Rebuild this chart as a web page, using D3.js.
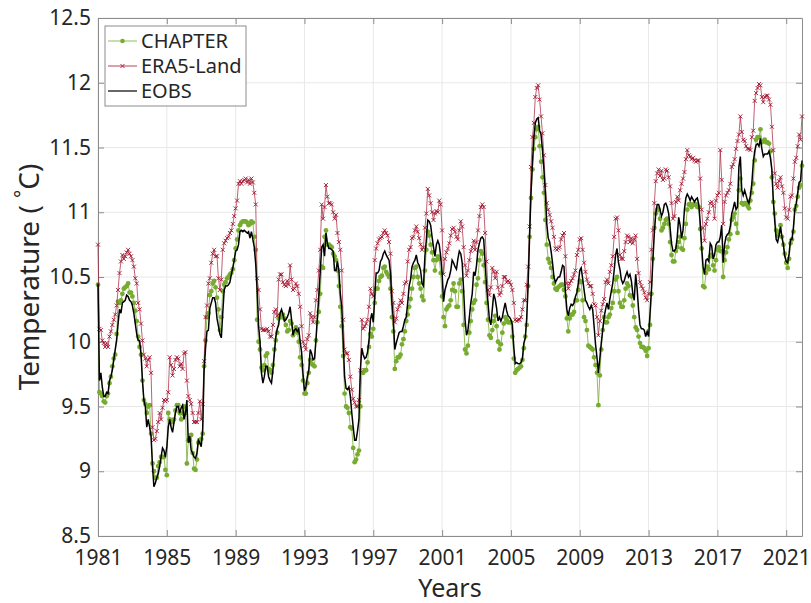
<!DOCTYPE html>
<html><head><meta charset="utf-8">
<script src="https://cdn.jsdelivr.net/npm/d3@7"></script>
<style>
body{margin:0;background:#fff;}
svg{display:block;font-family:"Noto Sans",sans-serif;}
</style>
</head><body>
<svg id="chart" width="811" height="603"></svg>
<script>
// ---- data (monthly, starting January 1981) ----
const startYear = 1981;
const xTickYears = [1981,1985,1989,1993,1997,2001,2005,2009,2013,2017,2021];
const yTickValues = [8.5,9,9.5,10,10.5,11,11.5,12,12.5];
const seriesNames = ["CHAPTER","ERA5-Land","EOBS"];

const chapter = [
10.44,9.61,9.60,9.58,9.54,9.53,9.58,9.60,9.68,9.73,9.81,9.87,
9.90,10.06,10.31,10.30,10.32,10.37,10.41,10.42,10.43,10.45,10.38,10.38,
10.35,10.30,10.24,10.16,10.04,9.96,9.90,9.70,9.55,9.52,9.45,9.50,
9.51,9.29,9.06,9.00,8.95,8.95,9.04,9.07,9.11,9.11,9.11,9.01,
8.97,9.45,9.40,9.38,9.38,9.40,9.47,9.51,9.51,9.45,9.40,9.45,
9.50,9.45,9.06,9.24,9.24,9.28,9.14,9.02,9.01,9.09,9.22,9.24,
9.25,9.29,9.81,10.01,10.19,10.22,10.36,10.39,10.45,10.47,10.42,10.34,
10.25,10.09,10.19,10.39,10.44,10.46,10.49,10.50,10.52,10.53,10.56,10.63,
10.72,10.79,10.86,10.90,10.92,10.93,10.93,10.93,10.92,10.90,10.91,10.93,
10.92,10.81,10.71,10.17,10.00,9.94,9.80,9.78,9.82,9.89,9.91,9.79,
9.78,9.76,9.82,9.94,10.01,10.07,10.18,10.21,10.19,10.21,10.18,10.13,
10.08,10.09,10.16,10.14,10.05,10.08,10.11,10.07,10.00,9.88,9.82,9.70,
9.60,9.60,9.68,9.76,9.86,9.83,9.82,9.81,10.01,10.15,10.23,10.37,
10.58,10.57,10.81,10.86,10.75,10.75,10.74,10.73,10.68,10.66,10.63,10.55,
10.43,10.27,10.12,9.89,9.60,9.50,9.49,9.45,9.34,9.33,9.18,9.07,
9.09,9.13,9.16,9.50,9.76,9.76,9.78,9.78,9.84,9.96,10.06,10.04,
10.10,10.30,10.41,10.41,10.47,10.50,10.51,10.57,10.58,10.54,10.52,10.50,
10.41,10.19,10.08,9.79,9.85,9.88,9.88,9.90,9.98,10.02,10.08,10.16,
10.21,10.27,10.33,10.41,10.50,10.57,10.58,10.50,10.45,10.41,10.35,10.32,
10.55,10.71,10.85,10.82,10.75,10.69,10.63,10.55,10.63,10.66,10.64,10.53,
10.35,10.19,10.12,10.25,10.27,10.28,10.32,10.40,10.45,10.39,10.27,10.27,
10.45,10.48,10.39,10.13,9.94,9.91,9.97,10.07,10.16,10.25,10.30,10.32,
10.44,10.49,10.63,10.70,10.68,10.59,10.46,10.30,10.17,10.05,10.03,10.09,
10.16,10.20,10.12,10.00,9.94,9.98,10.07,10.14,10.19,10.17,10.15,10.15,
10.15,10.04,9.87,9.76,9.78,9.79,9.80,9.81,9.86,9.95,10.04,10.13,
10.43,10.81,11.11,11.33,11.49,11.58,11.64,11.66,11.51,11.39,11.27,11.15,
10.94,10.75,10.64,10.61,10.57,10.50,10.45,10.41,10.40,10.42,10.43,10.44,
10.44,10.40,10.35,10.18,10.08,10.18,10.21,10.21,10.23,10.32,10.32,10.40,
10.47,10.46,10.32,10.19,10.16,10.09,9.97,9.96,9.95,9.94,9.88,9.82,
9.76,9.51,9.74,9.94,10.09,10.19,10.15,10.15,10.19,10.21,10.26,10.30,
10.39,10.48,10.50,10.39,10.30,10.27,10.27,10.32,10.41,10.45,10.43,10.36,
10.35,10.28,10.19,10.11,10.09,10.04,9.99,9.96,9.96,9.95,9.93,9.89,
9.95,10.13,10.37,10.64,10.88,10.99,11.02,11.02,10.95,10.86,10.88,10.91,
10.94,10.95,10.91,10.77,10.67,10.62,10.62,10.70,10.73,10.77,10.81,10.72,
10.71,10.80,10.91,11.02,11.06,11.06,11.04,11.06,11.06,11.06,11.04,11.04,
10.87,10.72,10.43,10.42,10.53,10.58,10.56,10.66,10.67,10.59,10.55,10.63,
10.71,10.73,10.70,10.70,10.50,10.63,10.69,10.73,10.79,10.83,10.94,10.96,
10.99,10.91,10.84,11.17,11.26,11.07,11.06,11.07,11.07,11.05,11.03,11.09,
11.15,11.22,11.40,11.56,11.58,11.58,11.64,11.54,11.55,11.56,11.54,11.54,
11.53,11.47,11.27,11.08,10.99,10.86,10.82,10.85,10.90,10.81,10.75,10.68,
10.61,10.57,10.64,10.76,10.79,10.85,11.02,11.05,11.12,11.19,11.21,11.36
];

const era5 = [
10.75,10.10,10.09,10.01,9.99,9.96,9.99,9.96,10.04,10.08,10.13,10.17,
10.21,10.28,10.40,10.53,10.62,10.67,10.64,10.66,10.69,10.71,10.68,10.66,
10.63,10.58,10.49,10.45,10.30,10.25,10.14,10.01,9.90,9.87,9.81,9.86,
9.88,9.76,9.34,9.24,9.25,9.31,9.38,9.45,9.40,9.49,9.55,9.54,
9.55,9.61,9.88,9.82,9.74,9.79,9.86,9.88,9.87,9.81,9.83,9.79,
9.91,9.92,9.70,9.58,9.55,9.52,9.45,9.38,9.38,9.38,9.45,9.54,
9.40,9.52,9.85,10.19,10.28,10.45,10.49,10.61,10.68,10.71,10.66,10.66,
10.49,10.40,10.48,10.71,10.76,10.78,10.80,10.81,10.84,10.86,10.91,10.97,
11.03,11.09,11.22,11.24,11.22,11.24,11.25,11.26,11.23,11.25,11.22,11.26,
11.23,11.15,11.06,10.49,10.40,10.25,10.10,10.09,10.09,10.09,10.10,10.08,
10.04,10.04,10.13,10.23,10.25,10.20,10.48,10.52,10.52,10.46,10.44,10.43,
10.47,10.44,10.59,10.48,10.40,10.41,10.45,10.43,10.37,10.27,10.12,10.00,
9.97,9.94,10.02,10.05,10.22,10.19,10.15,10.19,10.32,10.40,10.55,10.71,
11.06,10.95,11.04,11.21,11.12,11.07,11.07,11.06,11.00,10.95,10.98,10.84,
10.77,10.71,10.55,10.17,9.94,9.91,9.91,9.86,9.73,9.63,9.56,9.53,
9.50,9.50,9.55,9.78,10.17,10.10,10.12,10.14,10.17,10.27,10.41,10.37,
10.35,10.63,10.72,10.76,10.79,10.80,10.81,10.84,10.86,10.84,10.82,10.77,
10.68,10.39,10.30,10.15,10.18,10.25,10.28,10.32,10.30,10.37,10.45,10.46,
10.62,10.71,10.73,10.80,10.81,10.86,10.89,10.85,10.80,10.75,10.71,10.73,
10.88,10.99,11.18,11.13,11.07,11.00,10.94,10.99,11.01,11.00,11.09,11.06,
10.86,10.52,10.64,10.69,10.72,10.76,10.82,10.87,10.88,10.85,10.81,10.79,
10.86,10.93,10.89,10.73,10.59,10.51,10.55,10.63,10.70,10.73,10.78,10.71,
10.77,10.86,10.97,11.04,11.06,11.04,10.84,10.62,10.40,10.36,10.42,10.57,
10.54,10.49,10.54,10.42,10.36,10.38,10.43,10.50,10.50,10.46,10.47,10.46,
10.44,10.40,10.30,10.17,10.16,10.17,10.17,10.19,10.25,10.32,10.32,10.44,
10.58,10.89,11.35,11.58,11.69,11.89,11.96,11.98,11.87,11.74,11.61,11.44,
11.21,11.07,11.02,10.98,10.93,10.88,10.81,10.72,10.71,10.72,10.73,10.79,
10.82,10.84,10.66,10.45,10.41,10.45,10.47,10.49,10.52,10.55,10.67,10.71,
10.79,10.80,10.71,10.61,10.54,10.48,10.45,10.43,10.43,10.37,10.29,10.28,
10.19,10.05,10.16,10.24,10.29,10.33,10.46,10.48,10.45,10.54,10.59,10.66,
10.81,10.95,10.96,10.86,10.67,10.64,10.64,10.70,10.77,10.82,10.81,10.77,
10.80,10.76,10.79,10.82,10.64,10.53,10.46,10.43,10.41,10.38,10.34,10.32,
10.37,10.46,10.71,10.86,11.07,11.24,11.30,11.33,11.28,11.32,11.25,11.26,
11.33,11.32,11.27,11.20,11.07,10.95,10.97,11.08,11.12,11.09,11.17,11.22,
11.26,11.31,11.41,11.48,11.44,11.43,11.41,11.42,11.40,11.39,11.40,11.40,
11.26,11.02,10.88,10.78,10.91,10.95,11.00,11.07,11.08,11.05,10.95,11.09,
11.13,11.15,11.48,11.25,10.91,11.08,11.13,11.15,11.17,11.22,11.35,11.37,
11.41,11.49,11.55,11.60,11.74,11.62,11.56,11.55,11.51,11.49,11.49,11.48,
11.58,11.63,11.86,11.92,11.96,11.99,11.98,11.89,11.85,11.89,11.90,11.90,
11.87,11.83,11.66,11.48,11.30,11.22,11.19,11.24,11.27,11.20,11.15,11.03,
10.96,10.95,11.02,11.12,11.13,11.26,11.39,11.42,11.51,11.60,11.56,11.74
];

const eobs = [
10.45,9.70,9.76,9.65,9.58,9.58,9.61,9.60,9.70,9.73,9.78,9.86,
9.94,10.01,10.14,10.25,10.22,10.30,10.31,10.32,10.36,10.35,10.32,10.31,
10.28,10.22,10.14,10.06,10.01,10.01,9.91,9.70,9.55,9.50,9.34,9.40,
9.34,9.27,9.04,8.88,8.91,8.95,8.98,9.04,9.11,9.18,9.16,9.11,
9.19,9.34,9.40,9.34,9.30,9.38,9.45,9.50,9.50,9.45,9.49,9.51,
9.40,9.45,9.55,9.22,9.27,9.16,9.14,9.11,9.10,9.14,9.24,9.22,
9.19,9.32,9.78,9.95,10.08,10.09,10.26,10.30,10.34,10.34,10.30,10.18,
10.12,10.06,10.03,10.22,10.40,10.43,10.43,10.44,10.46,10.52,10.57,10.63,
10.70,10.71,10.75,10.85,10.86,10.85,10.86,10.85,10.84,10.85,10.80,10.85,
10.79,10.73,10.60,10.40,10.12,10.00,9.76,9.68,9.73,9.81,9.81,9.73,
9.70,9.68,9.78,9.91,10.04,10.10,10.13,10.22,10.25,10.21,10.16,10.17,
10.19,10.22,10.27,10.17,10.05,10.09,10.10,10.08,10.10,10.00,9.92,9.75,
9.62,9.65,9.73,9.78,9.94,9.91,9.86,9.87,10.01,10.19,10.35,10.54,
10.73,10.75,10.66,10.84,10.76,10.72,10.72,10.71,10.70,10.55,10.55,10.62,
10.55,10.37,10.27,10.01,9.73,9.64,9.63,9.65,9.58,9.45,9.34,9.24,
9.24,9.31,9.40,9.78,9.95,9.90,9.87,9.88,9.92,10.01,10.17,10.22,
10.15,10.35,10.53,10.53,10.55,10.62,10.64,10.68,10.70,10.67,10.65,10.63,
10.53,10.30,10.17,9.94,9.99,10.03,10.07,10.08,10.08,10.12,10.17,10.19,
10.30,10.43,10.48,10.58,10.61,10.63,10.67,10.61,10.59,10.55,10.45,10.43,
10.66,10.79,10.94,10.93,10.90,10.81,10.73,10.66,10.75,10.78,10.75,10.66,
10.53,10.31,10.40,10.44,10.48,10.50,10.55,10.63,10.61,10.58,10.56,10.64,
10.70,10.68,10.61,10.40,10.17,10.05,10.09,10.19,10.30,10.37,10.54,10.51,
10.59,10.71,10.76,10.80,10.81,10.79,10.61,10.43,10.30,10.17,10.13,10.25,
10.37,10.33,10.26,10.16,10.19,10.16,10.19,10.25,10.30,10.24,10.20,10.19,
10.17,10.13,9.96,9.83,9.84,9.83,9.83,9.84,9.87,9.99,10.03,10.18,
10.45,10.81,11.15,11.38,11.58,11.69,11.72,11.73,11.63,11.60,11.48,11.33,
11.15,10.91,10.80,10.77,10.70,10.61,10.50,10.46,10.48,10.50,10.50,10.54,
10.59,10.58,10.39,10.25,10.20,10.26,10.29,10.28,10.30,10.35,10.38,10.45,
10.55,10.57,10.49,10.40,10.32,10.30,10.27,10.25,10.28,10.25,10.12,9.98,
9.88,9.76,9.87,9.99,10.09,10.19,10.25,10.30,10.25,10.33,10.39,10.45,
10.55,10.67,10.72,10.61,10.56,10.48,10.45,10.47,10.51,10.54,10.50,10.52,
10.47,10.37,10.32,10.52,10.41,10.25,10.13,10.10,10.10,10.09,10.04,10.08,
10.04,10.22,10.40,10.63,10.84,10.99,11.06,11.06,11.02,10.97,11.00,11.06,
11.07,11.04,10.99,10.88,10.76,10.70,10.70,10.72,10.81,10.96,10.90,10.80,
10.86,11.02,11.11,11.14,11.12,11.09,11.12,11.10,11.08,11.10,11.11,11.06,
10.92,10.73,10.58,10.52,10.63,10.64,10.62,10.76,10.74,10.64,10.67,10.75,
10.77,10.77,10.81,10.90,10.61,10.75,10.81,10.83,10.84,10.89,10.99,11.03,
11.08,11.02,11.04,11.35,11.43,11.17,11.13,11.17,11.13,11.09,11.07,11.13,
11.22,11.38,11.47,11.52,11.53,11.51,11.57,11.49,11.43,11.45,11.45,11.45,
11.47,11.42,11.33,11.09,10.93,10.79,10.77,10.82,10.89,10.81,10.75,10.66,
10.62,10.61,10.68,10.79,10.79,10.88,11.02,11.07,11.15,11.23,11.24,11.40
];

// ---- layout ----
const svg = d3.select("#chart");
const L = 98, R = 802, T = 18, B = 536;
const nMonths = eobs.length;
const timeOf = i => startYear + i / 12;

const x = d3.scaleLinear().domain([startYear, timeOf(nMonths - 1)]).range([L, R]);
const y = d3.scaleLinear().domain([8.5, 12.5]).range([B, T]);

const axisColor = "#8c8c8c";
const textColor = "#262626";

// grid
const grid = svg.append("g");
grid.selectAll("line.gx").data(xTickYears).join("line")
  .attr("x1", d => x(d)).attr("x2", d => x(d)).attr("y1", T).attr("y2", B)
  .attr("stroke", "#e8e8e8").attr("stroke-width", 1);
grid.selectAll("line.gy").data(yTickValues).join("line")
  .attr("x1", L).attr("x2", R).attr("y1", d => y(d)).attr("y2", d => y(d))
  .attr("stroke", "#e8e8e8").attr("stroke-width", 1);

// axes
const xAxis = d3.axisBottom(x).tickValues(xTickYears).tickFormat(d3.format("d")).tickSizeInner(-6).tickSizeOuter(0).tickPadding(14);
const yAxis = d3.axisLeft(y).tickValues(yTickValues).tickFormat(d => d3.format("")(d)).tickSizeInner(-6).tickSizeOuter(0).tickPadding(7);

const gx = svg.append("g").attr("transform", `translate(0,${B})`).call(xAxis);
const gy = svg.append("g").attr("transform", `translate(${L},0)`).call(yAxis);
const gxTop = svg.append("g").attr("transform", `translate(0,${T})`).call(d3.axisTop(x).tickValues(xTickYears).tickFormat("").tickSizeInner(-6).tickSizeOuter(0));
const gyRight = svg.append("g").attr("transform", `translate(${R},0)`).call(d3.axisRight(y).tickValues(yTickValues).tickFormat("").tickSizeInner(-6).tickSizeOuter(0));
[gx, gy, gxTop, gyRight].forEach(g => {
  g.select(".domain").attr("stroke", axisColor).attr("stroke-width", 1);
  g.selectAll(".tick line").attr("stroke", axisColor);
  g.selectAll(".tick text").attr("fill", textColor).attr("font-size", 21).attr("font-family", "Noto Sans, sans-serif");
});

// series
const colors = { chapter: "#77AC30", era5: "#A2142F", eobs: "#000000" };
const line = d3.line().x((d, i) => x(timeOf(i))).y(d => y(d));

const plot = svg.append("g");
plot.append("path").datum(chapter).attr("d", line).attr("fill", "none")
  .attr("stroke", colors.chapter).attr("stroke-width", 0.8);
plot.append("g").selectAll("circle").data(chapter).join("circle")
  .attr("cx", (d, i) => x(timeOf(i))).attr("cy", d => y(d)).attr("r", 2.4)
  .attr("fill", colors.chapter);

plot.append("path").datum(era5).attr("d", line).attr("fill", "none")
  .attr("stroke", colors.era5).attr("stroke-width", 0.8).attr("stroke-opacity", 0.85);
const xMark = 2.0;
plot.append("g").selectAll("path").data(era5).join("path")
  .attr("d", (d, i) => {
    const cx = x(timeOf(i)), cy = y(d);
    return `M${cx - xMark},${cy - xMark}L${cx + xMark},${cy + xMark}M${cx - xMark},${cy + xMark}L${cx + xMark},${cy - xMark}`;
  })
  .attr("stroke", colors.era5).attr("stroke-width", 0.9).attr("fill", "none");

plot.append("path").datum(eobs).attr("d", line).attr("fill", "none")
  .attr("stroke", colors.eobs).attr("stroke-width", 1.5);

// axis labels
svg.append("text").attr("x", (L + R) / 2).attr("y", 597).attr("text-anchor", "middle")
  .attr("font-size", 25).attr("fill", textColor).text("Years");
const yl = svg.append("text").attr("transform", `translate(39,${(T + B) / 2}) rotate(-90)`)
  .attr("text-anchor", "middle").attr("font-size", 28).attr("fill", textColor);
yl.append("tspan").text("Temperature ( ");
yl.append("tspan").attr("font-size", 19).attr("dy", -10).text("°");
yl.append("tspan").attr("dy", 10).text("C)");

// legend
const lg = svg.append("g");
lg.append("rect").attr("x", 105).attr("y", 26).attr("width", 141).attr("height", 80)
  .attr("fill", "#fff").attr("stroke", axisColor).attr("stroke-width", 1);
const legendItems = [
  { name: seriesNames[0], color: colors.chapter, marker: "dot", w: 0.8 },
  { name: seriesNames[1], color: colors.era5, marker: "x", w: 0.8 },
  { name: seriesNames[2], color: colors.eobs, marker: "none", w: 1.2 }
];
legendItems.forEach((it, k) => {
  const cy = 41 + k * 25;
  lg.append("line").attr("x1", 108).attr("x2", 137).attr("y1", cy).attr("y2", cy)
    .attr("stroke", it.color).attr("stroke-width", it.w);
  if (it.marker === "dot") lg.append("circle").attr("cx", 122.5).attr("cy", cy).attr("r", 2.3).attr("fill", it.color);
  if (it.marker === "x") lg.append("path")
    .attr("d", `M${122.5 - 2},${cy - 2}L${122.5 + 2},${cy + 2}M${122.5 - 2},${cy + 2}L${122.5 + 2},${cy - 2}`)
    .attr("stroke", it.color).attr("stroke-width", 0.9);
  lg.append("text").attr("x", 141).attr("y", cy + 7).attr("font-size", 20).attr("fill", textColor).text(it.name);
});
</script>
</body></html>
